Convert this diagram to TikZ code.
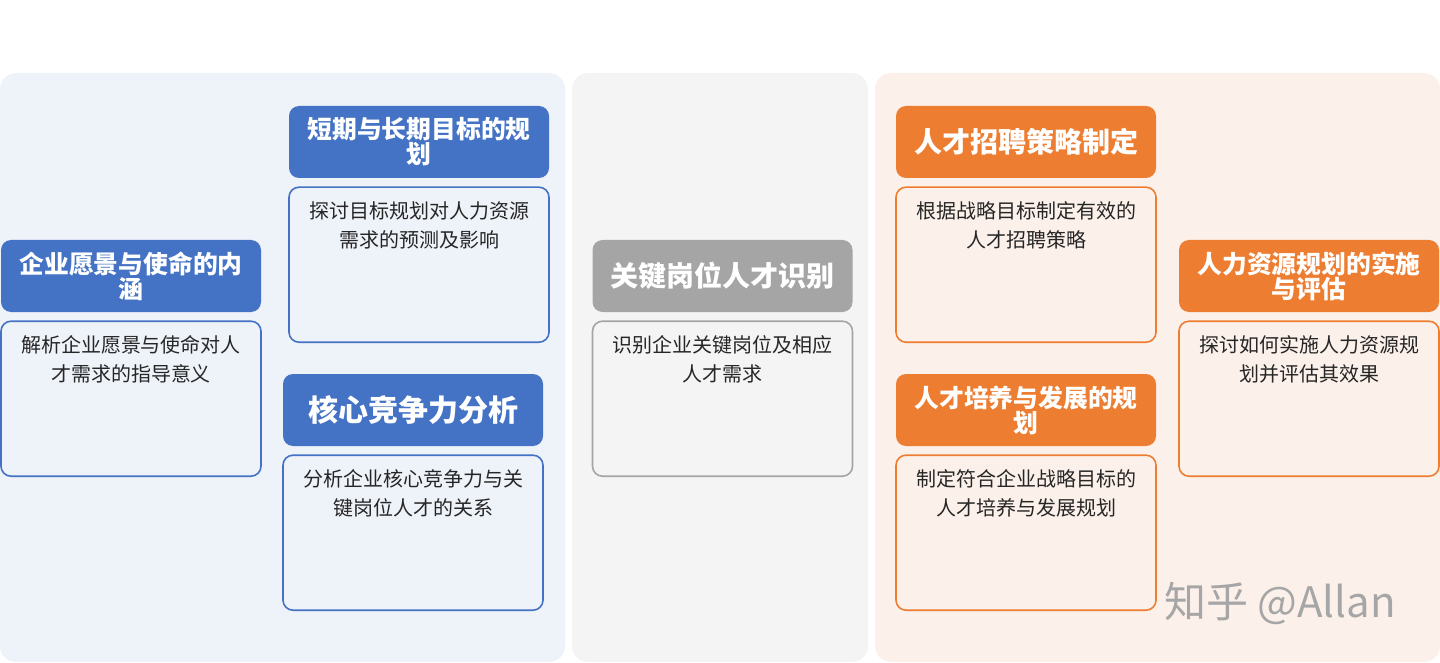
\documentclass[tikz,border=0pt]{standalone}
\usepackage{fontspec}
\setmainfont{Noto Sans CJK SC}
\usetikzlibrary{positioning}
\definecolor{headblue}{RGB}{68,114,196}
\definecolor{headorange}{RGB}{237,125,49}
\definecolor{headgray}{RGB}{165,165,165}
\definecolor{panelblue}{RGB}{238,242,249}
\definecolor{panelgray}{RGB}{244,244,244}
\definecolor{panelorange}{RGB}{252,241,234}
\definecolor{desctext}{RGB}{38,38,38}

\begin{document}
\begin{tikzpicture}[x=0.5pt,y=-0.5pt,node distance=4pt,
        head/.style={rectangle,rounded corners=5pt,fill=#1,text=white,minimum width=130pt,minimum height=36pt,align=center,inner sep=1pt},
        headtwo/.style={font=\fontsize{12.4pt}{12.5pt}\selectfont\bfseries},
        headone/.style={font=\fontsize{14pt}{16pt}\selectfont\bfseries},
        descbox/.style={rectangle,rounded corners=5pt,draw=#1,line width=0.8pt,minimum width=130pt,minimum height=77.5pt},
        desc/.style={text=desctext,font=\fontsize{10pt}{14.5pt}\selectfont,align=center,anchor=north,yshift=-4pt}]
    \useasboundingbox (0,0) rectangle (1440,663);
    % panels
    \fill[panelblue,rounded corners=8pt] (0,73) rectangle (565,662);
    \fill[panelgray,rounded corners=8pt] (572,73) rectangle (868,662);
    \fill[panelorange,rounded corners=8pt] (875,73) rectangle (1440,662);

    % blue column
    \node[head=headblue,headtwo] (vision) at (131,276) {企业愿景与使命的内\\涵};
    \node[descbox=headblue,below=of vision,label={[desc]north:解析企业愿景与使命对人\\才需求的指导意义}] (visiondesc) {};
    \node[head=headblue,headtwo] (goal) at (419,142) {短期与长期目标的规\\划};
    \node[descbox=headblue,below=of goal,label={[desc]north:探讨目标规划对人力资源\\需求的预测及影响}] (goaldesc) {};
    \node[head=headblue,font=\fontsize{15pt}{17pt}\selectfont\bfseries] (core) at (413,410) {核心竞争力分析};
    \node[descbox=headblue,below=of core,label={[desc]north:分析企业核心竞争力与关\\键岗位人才的关系}] (coredesc) {};

    % gray column
    \node[head=headgray,headone] (key) at (722.5,276) {关键岗位人才识别};
    \node[descbox=headgray,below=of key,label={[desc]north:识别企业关键岗位及相应\\人才需求}] (keydesc) {};

    % orange column
    \node[head=headorange,headone] (recruit) at (1026,142) {人才招聘策略制定};
    \node[descbox=headorange,below=of recruit,label={[desc]north:根据战略目标制定有效的\\人才招聘策略}] (recruitdesc) {};
    \node[head=headorange,headtwo] (train) at (1026,410) {人才培养与发展的规\\划};
    \node[descbox=headorange,below=of train,label={[desc]north:制定符合企业战略目标的\\人才培养与发展规划}] (traindesc) {};
    \node[head=headorange,headtwo] (impl) at (1309,276) {人力资源规划的实施\\与评估};
    \node[descbox=headorange,below=of impl,label={[desc]north:探讨如何实施人力资源规\\划并评估其效果}] (impldesc) {};

    \node[text=black!35,font=\fontsize{21pt}{21pt}\selectfont] (mark) at (1280,603) {知乎 @Allan};
\end{tikzpicture}
\end{document}
